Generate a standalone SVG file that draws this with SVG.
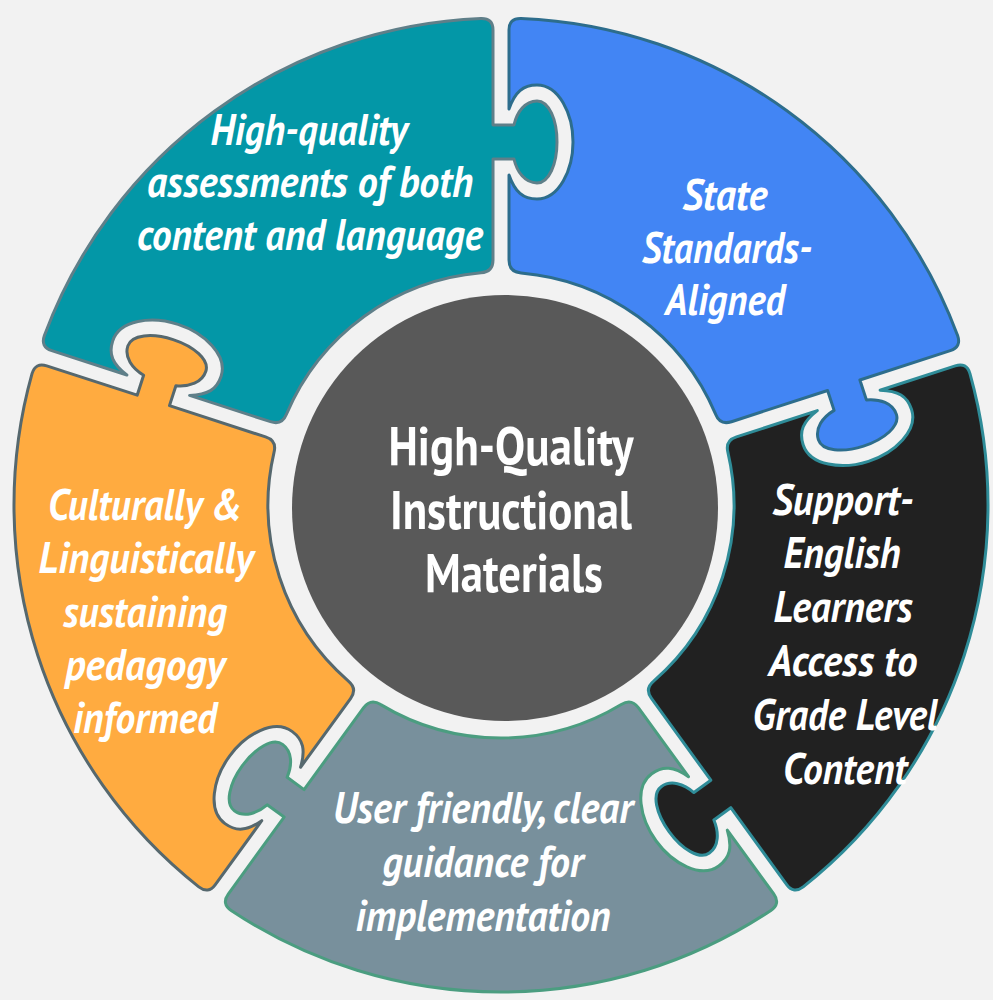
<svg xmlns="http://www.w3.org/2000/svg" width="993" height="1000" viewBox="0 0 993 1000">
<defs>
<style>
.piece { stroke-width: 3; stroke-linejoin: round; }
.lbl { font-family: "PT Sans", Roboto, "Liberation Sans", sans-serif; font-weight: bold; font-style: italic; font-size: 44px; fill: #ffffff; text-anchor: middle; }
.ctr { font-family: "PT Sans", Roboto, "Liberation Sans", sans-serif; font-weight: bold; font-size: 54px; fill: #ffffff; text-anchor: middle; }
</style>
<path id="pc" d="M 8 -245 L 8 -330 C 14 -313 22 -306 36 -306 C 58 -306 72 -335 72 -363 C 72 -391 58 -420 36 -420 C 22 -420 14 -413 8 -396 L 8 -475 Q 8 -487 20 -486.6 A 487 487 0 0 1 456.6 -169.4 Q 460.6 -158.1 449.3 -154.4 L 358.9 -125.0 L 365.4 -105.1 C 378.7 -106.2 391.7 -102.0 395.4 -90.6 C 399.1 -79.2 383.5 -65.7 362.5 -58.9 C 341.6 -52.1 321.1 -53.9 317.4 -65.3 C 313.7 -76.7 321.6 -87.7 333.1 -94.6 L 326.6 -114.5 L 230.5 -83.3 Q 219.0 -79.6 214.6 -90.8 A 233 233 0 0 0 20 -232.1 Q 8 -232.9 8 -245 Z"/>
</defs>
<rect x="0" y="0" width="993" height="1000" fill="#f2f2f2"/>
<g id="connectors"></g>
<g id="piece-assessments">
<use href="#pc" class="piece" fill="#0397a7" stroke="#5f7f89" transform="translate(501,505) rotate(-72)"/>
<text class="lbl" x="309" y="145" textLength="197" lengthAdjust="spacingAndGlyphs">High-quality</text>
<text class="lbl" x="310" y="197" textLength="326" lengthAdjust="spacingAndGlyphs">assessments of both</text>
<text class="lbl" x="310" y="250" textLength="346" lengthAdjust="spacingAndGlyphs">content and language</text>
</g>
<g id="piece-standards">
<use href="#pc" class="piece" fill="#4285f4" stroke="#2d6d8c" transform="translate(501,505)"/>
<text class="lbl" x="725" y="210" textLength="85" lengthAdjust="spacingAndGlyphs">State</text>
<text class="lbl" x="727" y="263" textLength="170" lengthAdjust="spacingAndGlyphs">Standards-</text>
<text class="lbl" x="725" y="315" textLength="120" lengthAdjust="spacingAndGlyphs">Aligned</text>
</g>
<g id="piece-support">
<use href="#pc" class="piece" fill="#212121" stroke="#2f8c98" transform="translate(501,505) rotate(72)"/>
<text class="lbl" x="843" y="515" textLength="141" lengthAdjust="spacingAndGlyphs">Support-</text>
<text class="lbl" x="842" y="568" textLength="117" lengthAdjust="spacingAndGlyphs">English</text>
<text class="lbl" x="843" y="622" textLength="139" lengthAdjust="spacingAndGlyphs">Learners</text>
<text class="lbl" x="843" y="676" textLength="149" lengthAdjust="spacingAndGlyphs">Access to</text>
<text class="lbl" x="845" y="730" textLength="185" lengthAdjust="spacingAndGlyphs">Grade Level</text>
<text class="lbl" x="845" y="784" textLength="124" lengthAdjust="spacingAndGlyphs">Content</text>
</g>
<g id="piece-guidance">
<use href="#pc" class="piece" fill="#78909c" stroke="#4b9d80" transform="translate(501,505) rotate(144)"/>
<text class="lbl" x="483" y="823" textLength="300" lengthAdjust="spacingAndGlyphs">User friendly, clear</text>
<text class="lbl" x="483" y="877" textLength="201" lengthAdjust="spacingAndGlyphs">guidance for</text>
<text class="lbl" x="483" y="931" textLength="255" lengthAdjust="spacingAndGlyphs">implementation</text>
</g>
<g id="piece-cultural">
<use href="#pc" class="piece" fill="#ffab40" stroke="#56686e" transform="translate(501,505) rotate(216)"/>
<text class="lbl" x="145" y="520" textLength="194" lengthAdjust="spacingAndGlyphs">Culturally &amp;</text>
<text class="lbl" x="146" y="573" textLength="215" lengthAdjust="spacingAndGlyphs">Linguistically</text>
<text class="lbl" x="145" y="627" textLength="164" lengthAdjust="spacingAndGlyphs">sustaining</text>
<text class="lbl" x="145" y="680" textLength="160" lengthAdjust="spacingAndGlyphs">pedagogy</text>
<text class="lbl" x="145" y="733" textLength="144" lengthAdjust="spacingAndGlyphs">informed</text>
</g>
<g id="center">
<circle cx="505" cy="508" r="213" fill="#595959"/>
<text class="ctr" x="511" y="465" textLength="245" lengthAdjust="spacingAndGlyphs">High-Quality</text>
<text class="ctr" x="511" y="529" textLength="242" lengthAdjust="spacingAndGlyphs">Instructional</text>
<text class="ctr" x="514" y="592" textLength="178" lengthAdjust="spacingAndGlyphs">Materials</text>
</g>
</svg>
